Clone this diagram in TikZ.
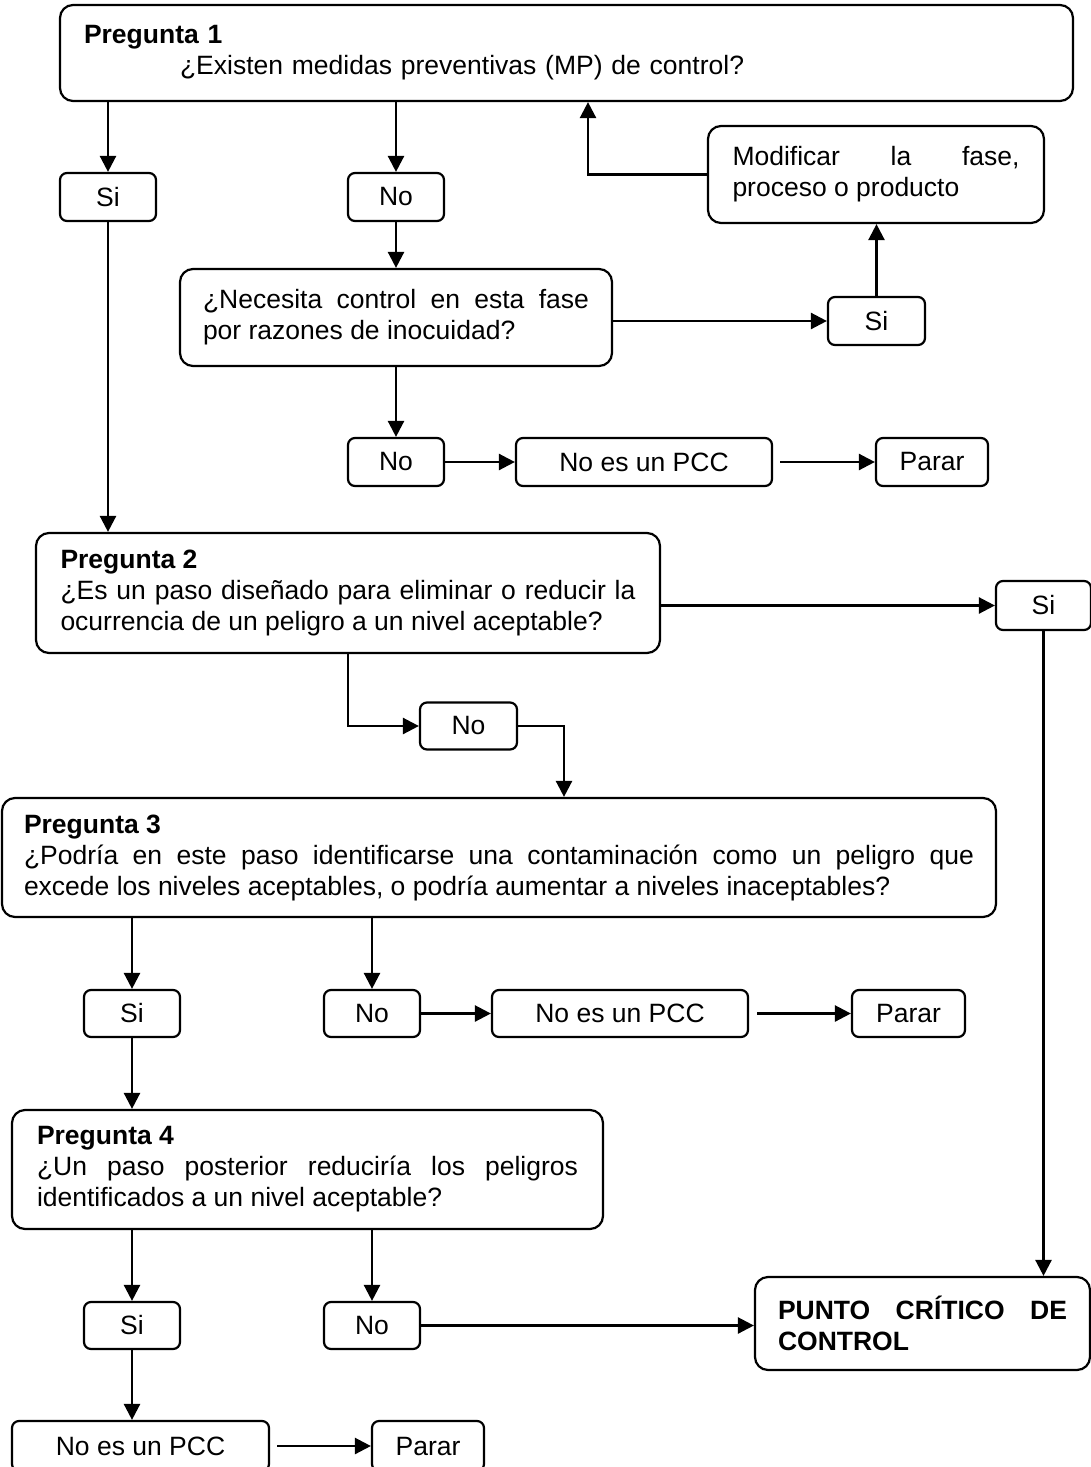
\documentclass[tikz,border=0pt]{standalone}
\usepackage{fontspec}
\setmainfont{Liberation Sans}
\usetikzlibrary{arrows.meta}
\hyphenpenalty=10000
\exhyphenpenalty=10000
\tolerance=9999
\begin{document}
\begin{tikzpicture}[x=1pt,y=-1pt,
  every node/.style={font=\fontsize{26.5}{31}\selectfont},
  box/.style={draw, line width=2.2pt, rounded corners=13pt, inner sep=0pt},
  small/.style={draw, line width=2.2pt, rounded corners=7pt, inner sep=0pt,
    minimum height=48pt},
  arr/.style={line width=2.5pt, -{Triangle[length=16pt,width=16pt]}}]
\useasboundingbox (0,0) rectangle (1091,1467);

% Pregunta 1 and its branches
\node[box, minimum width=1013pt, minimum height=96pt, text width=965pt, align=left]
  (q1) at (566.5,53) {\textbf{Pregunta 1}\\\hspace*{96pt}¿Existen medidas preventivas (MP) de control?};
\node[small, minimum width=96pt] (si1) at (108,197) {Si};
\node[small, minimum width=96pt] (no1) at (396,197) {No};
\node[box, minimum width=336pt, minimum height=97pt, text width=287pt, align=justify]
  (mod) at (876,174.5) {Modificar la fase,\linebreak proceso o producto};
\node[box, minimum width=432pt, minimum height=97pt, text width=386pt, align=justify]
  (nec) at (396,317.5) {¿Necesita control en esta fase\linebreak por razones de inocuidad?};
\node[small, minimum width=97pt] (si2) at (876.5,321) {Si};
\node[small, minimum width=96pt] (no2) at (396,462) {No};
\node[small, minimum width=256pt] (npcc1) at (644,462) {No es un PCC};
\node[small, minimum width=112pt] (parar1) at (932,462) {Parar};

% Pregunta 2
\node[box, minimum width=624pt, minimum height=120pt, text width=575pt, align=justify]
  (q2) at (348,593) {\textbf{Pregunta 2}\\¿Es un paso diseñado para eliminar o reducir la\linebreak ocurrencia de un peligro a un nivel aceptable?};
\node[small, minimum width=95pt, minimum height=49pt] (si3) at (1043.5,605.5) {Si};
\node[small, minimum width=97pt, minimum height=47pt] (no3) at (468.5,726) {No};

% Pregunta 3
\node[box, minimum width=994pt, minimum height=119pt, text width=950pt, align=justify]
  (q3) at (499,857.5) {\textbf{Pregunta 3}\\¿Podría en este paso identificarse una contaminación como un peligro que\linebreak excede los niveles aceptables, o podría aumentar a niveles inaceptables?};
\node[small, minimum width=96pt, minimum height=47pt] (si4) at (132,1013.5) {Si};
\node[small, minimum width=96pt, minimum height=47pt] (no4) at (372,1013.5) {No};
\node[small, minimum width=256pt, minimum height=47pt] (npcc2) at (620,1013.5) {No es un PCC};
\node[small, minimum width=113pt, minimum height=47pt] (parar2) at (908.5,1013.5) {Parar};

% Pregunta 4
\node[box, minimum width=591pt, minimum height=119pt, text width=541pt, align=justify]
  (q4) at (307.5,1169.5) {\textbf{Pregunta 4}\\¿Un paso posterior reduciría los peligros\linebreak identificados a un nivel aceptable?};
\node[small, minimum width=96pt, minimum height=47pt] (si5) at (132,1325.5) {Si};
\node[small, minimum width=96pt, minimum height=47pt] (no5) at (372,1325.5) {No};
\node[box, minimum width=335pt, minimum height=93pt, text width=289pt, align=justify]
  (pcc) at (922.5,1323.5) {\textbf{PUNTO CRÍTICO DE\linebreak CONTROL}};
\node[small, minimum width=257pt, minimum height=50pt] (npcc3) at (140.5,1446) {No es un PCC};
\node[small, minimum width=112pt, minimum height=50pt] (parar3) at (428,1446) {Parar};

% bend points
\coordinate (fb) at (588,0);
\coordinate (q2out) at (348,0);
\coordinate (q3in) at (564,0);

% connectors
\draw[arr] (si1.north |- q1.south) -- (si1.north);
\draw[arr] (no1.north |- q1.south) -- (no1.north);
\draw[arr] (mod.west) -| (q1.south -| fb);
\draw[arr] (no1.south) -- (no1.south |- nec.north);
\draw[arr] (nec.east |- si2.west) -- (si2.west);
\draw[arr] (si2.north) -- (si2.north |- mod.south);
\draw[arr] (no2.north |- nec.south) -- (no2.north);
\draw[arr] (no2.east) -- (npcc1.west);
\draw[arr, shorten <=7pt] (npcc1.east) -- (parar1.west);
\draw[arr] (si1.south) -- (si1.south |- q2.north);
\draw[arr] (q2.east |- si3.west) -- (si3.west);
\draw[arr] (si3.south) -- (si3.south |- pcc.north);
\draw[arr] (q2.south -| q2out) |- (no3.west);
\draw[arr] (no3.east) -| (q3.north -| q3in);
\draw[arr] (si4.north |- q3.south) -- (si4.north);
\draw[arr] (no4.north |- q3.south) -- (no4.north);
\draw[arr] (no4.east) -- (npcc2.west);
\draw[arr, shorten <=8pt] (npcc2.east) -- (parar2.west);
\draw[arr] (si4.south) -- (si4.south |- q4.north);
\draw[arr] (si5.north |- q4.south) -- (si5.north);
\draw[arr] (no5.north |- q4.south) -- (no5.north);
\draw[arr] (no5.east) -- (no5.east -| pcc.west);
\draw[arr] (si5.south) -- (si5.south |- npcc3.north);
\draw[arr, shorten <=7pt] (npcc3.east) -- (parar3.west);
\end{tikzpicture}
\end{document}
